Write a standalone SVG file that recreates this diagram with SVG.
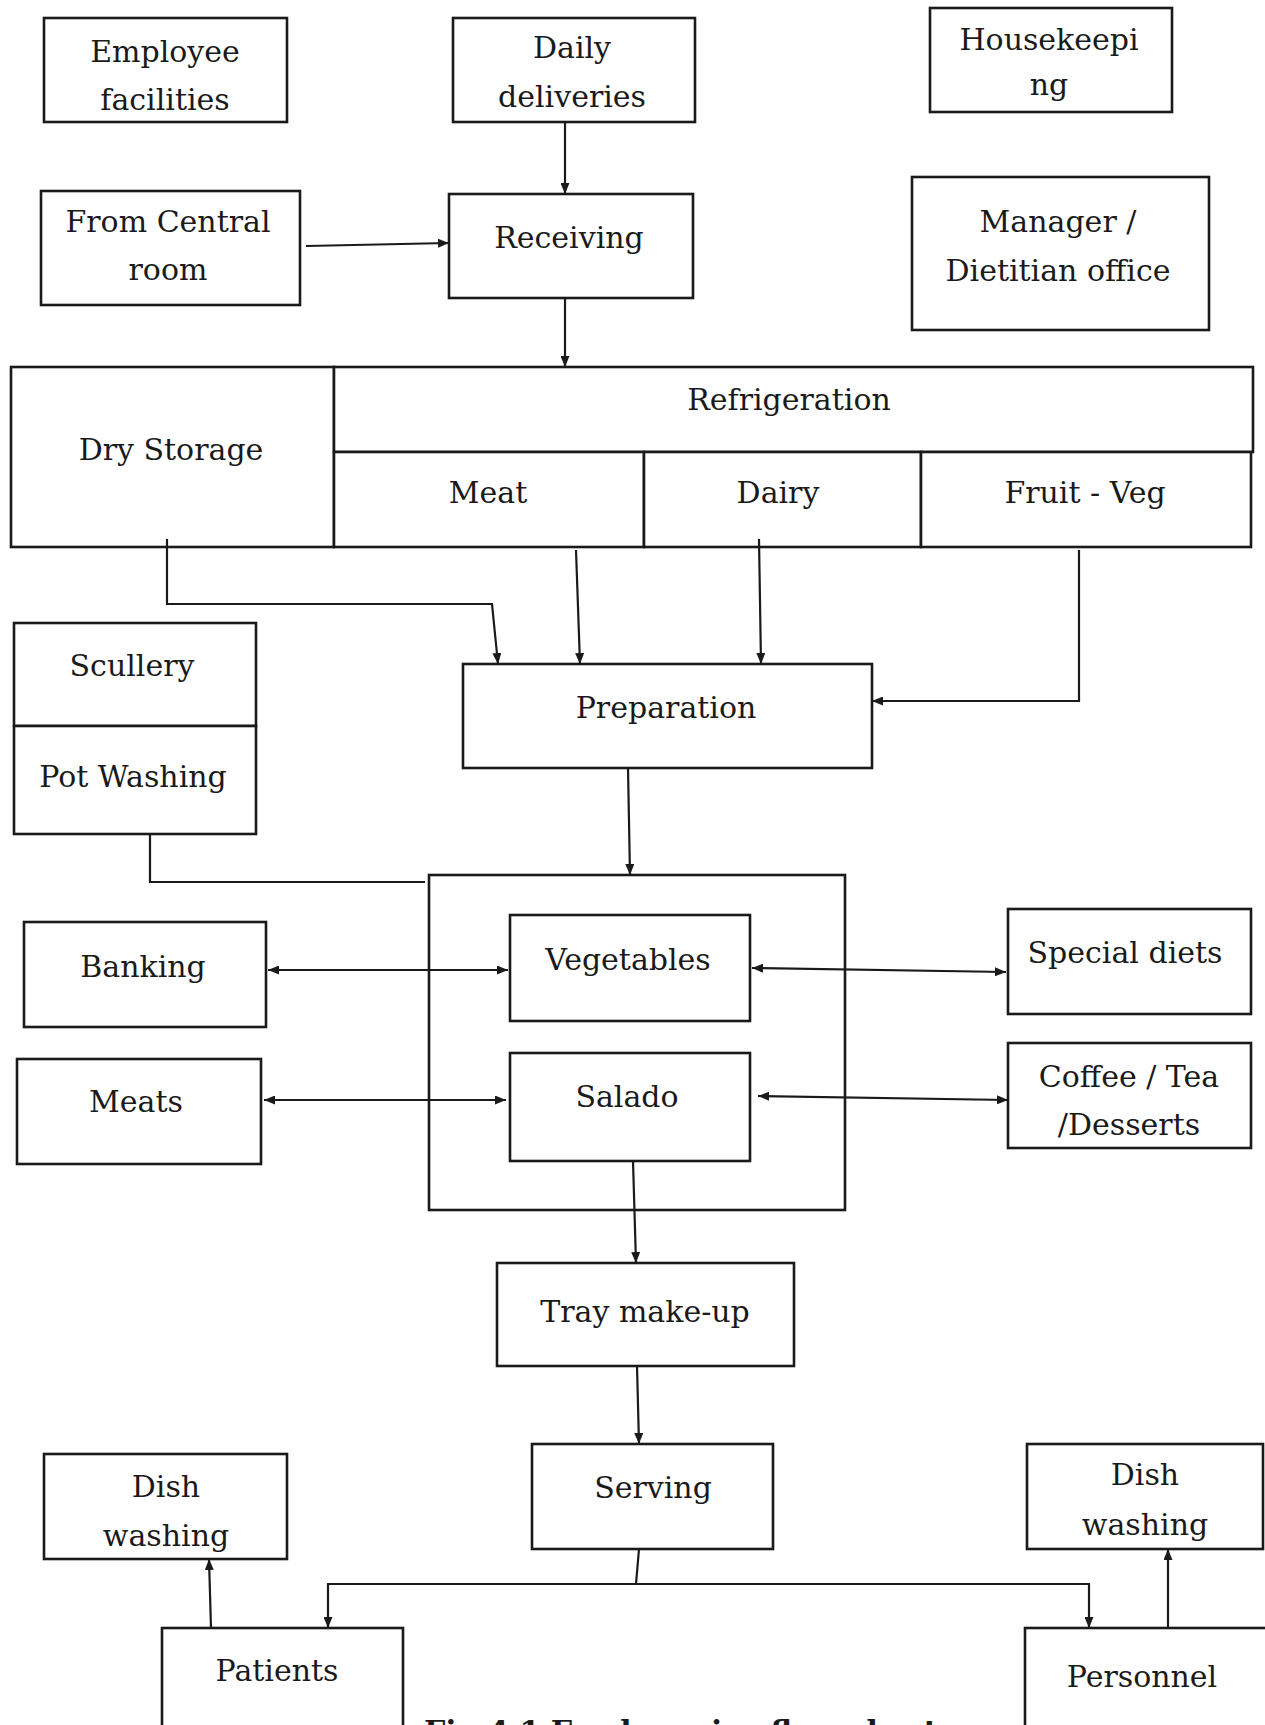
<svg xmlns="http://www.w3.org/2000/svg" width="1265" height="1725" viewBox="0 0 1265 1725">
<style>
  .box { fill: #fff; stroke: #1a1a1a; stroke-width: 2.6; }
  .lbl { font-family: "DejaVu Serif", "Liberation Serif", serif; font-size: 30px; fill: #1a1a1a; text-anchor: middle; }
  .con { fill: none; stroke: #1a1a1a; stroke-width: 2.2; }
  .cap { font-family: "DejaVu Serif", "Liberation Serif", serif; font-size: 30px; font-weight: bold; fill: #1a1a1a; }
</style>
<defs>
  <marker id="ah" viewBox="0 0 11 9" refX="11" refY="4.5" markerWidth="11" markerHeight="9" markerUnits="userSpaceOnUse" orient="auto-start-reverse">
    <path d="M0,0 L11,4.5 L0,9 z" fill="#1a1a1a"/>
  </marker>
</defs>
<rect width="1265" height="1725" fill="#fff"/>

<g id="employee-facilities"><rect class="box" x="44" y="18" width="243" height="104"/>
  <text class="lbl" x="165" y="62">Employee</text><text class="lbl" x="165" y="110">facilities</text></g>
<g id="daily-deliveries"><rect class="box" x="453" y="18" width="242" height="104"/>
  <text class="lbl" x="572" y="58">Daily</text><text class="lbl" x="572" y="107">deliveries</text></g>
<g id="housekeeping"><rect class="box" x="930" y="8" width="242" height="104"/>
  <text class="lbl" x="1049" y="50">Housekeepi</text><text class="lbl" x="1049" y="95">ng</text></g>
<g id="from-central-room"><rect class="box" x="41" y="191" width="259" height="114"/>
  <text class="lbl" x="168" y="232">From Central</text><text class="lbl" x="168" y="280">room</text></g>
<g id="receiving"><rect class="box" x="449" y="194" width="244" height="104"/>
  <text class="lbl" x="569" y="248">Receiving</text></g>
<g id="manager-dietitian-office"><rect class="box" x="912" y="177" width="297" height="153"/>
  <text class="lbl" x="1058" y="232">Manager /</text><text class="lbl" x="1058" y="281">Dietitian office</text></g>

<g id="dry-storage"><rect class="box" x="11" y="367" width="323" height="180"/>
  <text class="lbl" x="171" y="460">Dry Storage</text></g>
<g id="refrigeration"><rect class="box" x="334" y="367" width="919" height="85"/>
  <text class="lbl" x="789" y="410">Refrigeration</text></g>
<g id="meat"><rect class="box" x="334" y="452" width="310" height="95"/>
  <text class="lbl" x="488" y="503">Meat</text></g>
<g id="dairy"><rect class="box" x="644" y="452" width="277" height="95"/>
  <text class="lbl" x="778" y="503">Dairy</text></g>
<g id="fruit-veg"><rect class="box" x="921" y="452" width="330" height="95"/>
  <text class="lbl" x="1085" y="503">Fruit - Veg</text></g>

<g id="scullery"><rect class="box" x="14" y="623" width="242" height="103"/>
  <text class="lbl" x="132" y="676">Scullery</text></g>
<g id="pot-washing"><rect class="box" x="14" y="726" width="242" height="108"/>
  <text class="lbl" x="133" y="787">Pot Washing</text></g>
<g id="preparation"><rect class="box" x="463" y="664" width="409" height="104"/>
  <text class="lbl" x="666" y="718">Preparation</text></g>

<g id="production-area"><rect class="box" x="429" y="875" width="416" height="335"/></g>
<g id="vegetables"><rect class="box" x="510" y="915" width="240" height="106"/>
  <text class="lbl" x="628" y="970">Vegetables</text></g>
<g id="salado"><rect class="box" x="510" y="1053" width="240" height="108"/>
  <text class="lbl" x="627" y="1107">Salado</text></g>
<g id="banking"><rect class="box" x="24" y="922" width="242" height="105"/>
  <text class="lbl" x="143" y="977">Banking</text></g>
<g id="meats"><rect class="box" x="17" y="1059" width="244" height="105"/>
  <text class="lbl" x="136" y="1112">Meats</text></g>
<g id="special-diets"><rect class="box" x="1008" y="909" width="243" height="105"/>
  <text class="lbl" x="1125" y="963">Special diets</text></g>
<g id="coffee-tea-desserts"><rect class="box" x="1008" y="1043" width="243" height="105"/>
  <text class="lbl" x="1129" y="1087">Coffee / Tea</text><text class="lbl" x="1129" y="1135">/Desserts</text></g>

<g id="tray-make-up"><rect class="box" x="497" y="1263" width="297" height="103"/>
  <text class="lbl" x="645" y="1322">Tray make-up</text></g>
<g id="serving"><rect class="box" x="532" y="1444" width="241" height="105"/>
  <text class="lbl" x="653" y="1498">Serving</text></g>
<g id="dish-washing-left"><rect class="box" x="44" y="1454" width="243" height="105"/>
  <text class="lbl" x="166" y="1497">Dish</text><text class="lbl" x="166" y="1546">washing</text></g>
<g id="dish-washing-right"><rect class="box" x="1027" y="1444" width="236" height="105"/>
  <text class="lbl" x="1145" y="1485">Dish</text><text class="lbl" x="1145" y="1535">washing</text></g>
<g id="patients"><rect class="box" x="162" y="1628" width="241" height="120"/>
  <text class="lbl" x="277" y="1681">Patients</text></g>
<g id="personnel"><rect class="box" x="1025" y="1628" width="250" height="120"/>
  <text class="lbl" x="1142" y="1687">Personnel</text></g>

<g id="connectors">
  <path class="con" d="M565,122 V194" marker-end="url(#ah)"/>
  <path class="con" d="M306,246 L449,243" marker-end="url(#ah)"/>
  <path class="con" d="M565,298 V367" marker-end="url(#ah)"/>
  <path class="con" d="M167,539 V604 H492 L498,664" marker-end="url(#ah)"/>
  <path class="con" d="M576,550 L580,664" marker-end="url(#ah)"/>
  <path class="con" d="M759,539 L761,664" marker-end="url(#ah)"/>
  <path class="con" d="M1079,550 V701 H872" marker-end="url(#ah)"/>
  <path class="con" d="M628,768 L630,875" marker-end="url(#ah)"/>
  <path class="con" d="M150,834 V882 H425"/>
  <path class="con" d="M268,970 H508" marker-start="url(#ah)" marker-end="url(#ah)"/>
  <path class="con" d="M264,1100 H506" marker-start="url(#ah)" marker-end="url(#ah)"/>
  <path class="con" d="M752,968 L1006,972" marker-start="url(#ah)" marker-end="url(#ah)"/>
  <path class="con" d="M758,1096 L1008,1100" marker-start="url(#ah)" marker-end="url(#ah)"/>
  <path class="con" d="M633,1161 L636,1263" marker-end="url(#ah)"/>
  <path class="con" d="M637,1366 L639,1444" marker-end="url(#ah)"/>
  <path class="con" d="M639,1549 L636,1584"/>
  <path class="con" d="M328,1628 V1584 H1089 V1628" marker-start="url(#ah)" marker-end="url(#ah)"/>
  <path class="con" d="M211,1628 L209,1559" marker-end="url(#ah)"/>
  <path class="con" d="M1168,1628 V1549" marker-end="url(#ah)"/>
</g>

<text class="cap" x="424" y="1742">Fig 4.1 Food service flow chart</text>
</svg>
